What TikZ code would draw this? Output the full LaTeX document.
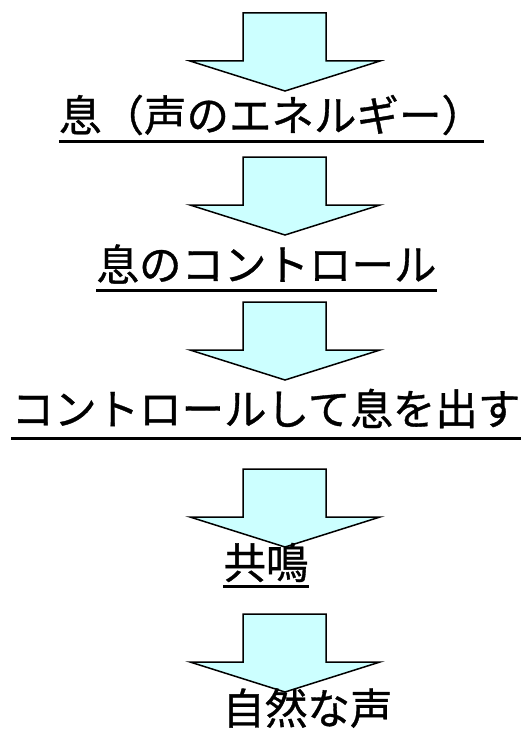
\documentclass[tikz,border=0pt]{standalone}
\usepackage{fontspec}
\newfontfamily\jp[RawFeature={embolden=0.8}]{Noto Sans CJK JP}
\definecolor{arrowfill}{HTML}{CCFFFF}
\tikzset{
  downarrow/.pic={
    \draw[line width=1.5bp, fill=arrowfill, line join=miter]
      (-42,0) -- (41,0) -- (41,48) -- (95,48) -- (0,78) -- (-95,48) -- (-42,48) -- cycle;
  },
  lbl/.style={inner sep=0pt, font=\jp\fontsize{42.5bp}{50bp}\selectfont},
  ul/.style={line width=3bp}
}
\begin{document}
\begin{tikzpicture}[x=1bp,y=-1bp]
\useasboundingbox (0,0) rectangle (523,735);
\pic (a1) at (285,13) {downarrow};
\pic (a2) at (285,157) {downarrow};
\pic (a3) at (285,302) {downarrow};
\pic (a4) at (285,469) {downarrow};
\pic (a5) at (285,614) {downarrow};
\node[lbl] (t1) at (271.5,115) {息（声のエネルギー）};
\node[lbl] (t2) at (266.5,264) {息のコントロール};
\node[lbl] (t3) at (266,408.5) {コントロールして息を出す};
\node[lbl] (t4) at (266,562.5) {共鳴};
\node[lbl] (t5) at (307.5,708) {自然な声};
\draw[ul] (t1.west |- 0,141) -- (t1.east |- 0,141);
\draw[ul] (t2.west |- 0,290) -- (t2.east |- 0,290);
\draw[ul] (t3.west |- 0,438) -- (t3.east |- 0,438);
\draw[ul] (t4.west |- 0,586) -- (t4.east |- 0,586);
\end{tikzpicture}
\end{document}
